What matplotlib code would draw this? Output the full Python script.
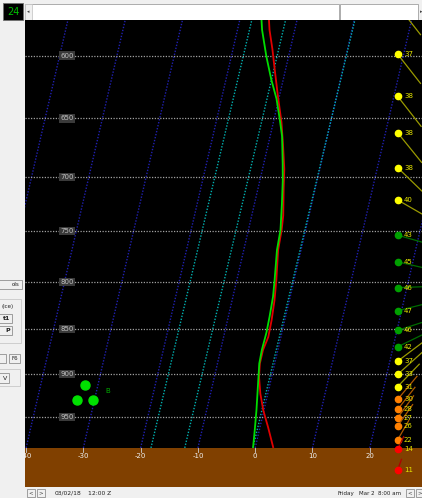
import numpy as np
import matplotlib
matplotlib.use("Agg")
import matplotlib.pyplot as plt
from matplotlib.patches import Rectangle

# sounding (hPa, deg C)
temp_pres = [573.5, 580.8, 595.4, 610.7, 631.3, 652.9, 672.2, 693.1, 711.1, 735.5, 749.0, 768.4,
             798.3, 819.0, 840.2, 858.1, 872.7, 887.6, 902.9, 922.3, 942.2, 962.4, 987.2]
temp = [-14.9, -14.4, -13.1, -11.9, -10.3, -8.6, -7.4, -6.2, -5.5, -4.5, -4.2, -4.0,
        -3.1, -2.6, -2.3, -2.2, -2.6, -2.6, -2.2, -1.3, -0.1, 1.4, 3.1]
dwpt_pres = [573.5, 580.8, 600.5, 618.5, 633.9, 650.7, 665.0, 688.4, 703.4, 724.7, 749.0, 768.4,
             798.3, 815.5, 836.1, 853.3, 872.7, 887.6, 902.9, 942.2, 966.0, 987.0]
dwpt = [-16.2, -15.7, -13.9, -12.1, -10.4, -9.0, -7.9, -6.7, -6.0, -5.2, -4.4, -4.2,
        -3.4, -3.0, -2.8, -2.7, -2.8, -2.7, -2.3, -1.3, -0.8, -0.4]

# wind column: pressure, speed (kt), bearing of the shaft (deg)
wind_pres = [563, 599, 632, 662, 692, 721, 754, 780, 806, 830, 851, 869, 885, 900, 914, 929,
             941, 951, 961, 978, 990, 1016]
wind_spd = [37, 37, 38, 38, 38, 40, 43, 45, 46, 47, 46, 42, 37, 33, 31, 30, 28, 27, 26, 22, 14, 11]
wind_dir = [142, 142, 142, 141, 134, 120, 106, 103, 88, 76, 72, 64, 53, 48, 44, 40, 38, 36, 35, 30, 25, 20]

# reference lines
isotherms = list(range(-70, 40, 10))
temp_ticks = [-40, -30, -20, -10, 0, 10, 20]
plevels = [600, 650, 700, 750, 800, 850, 900, 950]
mix_bot = [-18.2, -12.3, -0.4]
mix_top = [-17.9, -12.0, 0.1]

P_SFC = 988.2
P_TOP = 573.5
P_LOW = 1038.6
SKEW = 31.8


def skew_x(t, p):
    return np.asarray(t, dtype=float) + SKEW * np.log(P_SFC / np.asarray(p, dtype=float))


def wind_color(s):
    if s <= 15:
        return "#ff0000", "#b00000"
    if s <= 30:
        return "#ff8000", "#b05a00"
    if s <= 40:
        return "#ffff00", "#9a9a00"
    return "#00a000", "#006c00"


fig = plt.figure(figsize=(4.22, 4.98), dpi=100, facecolor="#f0f0f0")

# window chrome
ui = fig.add_axes([0, 0, 1, 1])
ui.set_xlim(0, 422)
ui.set_ylim(498, 0)
ui.axis("off")
ui.add_patch(Rectangle((3, 3), 20, 17, fc="black", ec="#707070", lw=0.6))
ui.text(13, 11.5, "24", color="#00c000", fontsize=7, ha="center", va="center")
ui.add_patch(Rectangle((25, 3.5), 314, 16, fc="white", ec="#a0a0a0", lw=0.6))
ui.add_patch(Rectangle((25, 3.5), 7, 16, fc="#f0f0f0", ec="#c0c0c0", lw=0.5))
ui.text(28.5, 11.5, "\u25c2", color="#404040", fontsize=3.5, ha="center", va="center")
ui.add_patch(Rectangle((340, 3.5), 78, 16, fc="white", ec="#a0a0a0", lw=0.6))
ui.text(421, 11.5, "\u25b8", color="#404040", fontsize=3.5, ha="center", va="center")

# left tool panel (partly hidden)
btn = dict(fc="#f0f0f0", ec="#909090", lw=0.6)
ui.add_patch(Rectangle((-2, 280), 24, 9, **btn))
ui.text(19, 284.5, "ols", fontsize=4, ha="right", va="center", color="#202020")
ui.add_patch(Rectangle((-2, 299), 23, 44, fill=False, ec="#c8c8c8", lw=0.6))
ui.text(1, 306.5, "(ice)", fontsize=4, ha="left", va="center", color="#202020")
ui.add_patch(Rectangle((-2, 314), 14, 9, **btn))
ui.text(10, 318.5, "t1", fontsize=4.5, ha="right", va="center", weight="bold", color="#202020")
ui.add_patch(Rectangle((-2, 326), 14, 9, **btn))
ui.text(10, 330.5, "P", fontsize=4.5, ha="right", va="center", weight="bold", color="#202020")
ui.add_patch(Rectangle((-2, 354), 8, 9, **btn))
ui.add_patch(Rectangle((9, 354), 11, 9, **btn))
ui.text(14.5, 358.5, "F6", fontsize=4, ha="center", va="center", color="#202020")
ui.add_patch(Rectangle((-2, 369), 22, 17, fill=False, ec="#c8c8c8", lw=0.6))
ui.add_patch(Rectangle((-2, 373), 11, 10, **btn))
ui.text(7, 378, "V", fontsize=4.5, ha="right", va="center", color="#202020")

# bottom status bar
ui.add_patch(Rectangle((27, 489), 8, 8, **btn))
ui.add_patch(Rectangle((37, 489), 8, 8, **btn))
ui.text(31, 493, "<", fontsize=4, ha="center", va="center", color="#404040")
ui.text(41, 493, ">", fontsize=4, ha="center", va="center", color="#404040")
ui.text(55, 493, "03/02/18", fontsize=4.3, ha="left", va="center", color="#202020")
ui.text(88, 493, "12:00 Z", fontsize=4.3, ha="left", va="center", color="#202020")
ui.text(338, 493, "Friday", fontsize=4, ha="left", va="center", color="#202020")
ui.text(359, 493, "Mar 2", fontsize=4, ha="left", va="center", color="#202020")
ui.text(378, 493, "8:00 am", fontsize=4, ha="left", va="center", color="#202020")
ui.add_patch(Rectangle((406, 489), 8, 8, **btn))
ui.add_patch(Rectangle((416, 489), 8, 8, **btn))
ui.text(410, 493, "<", fontsize=4, ha="center", va="center", color="#404040")
ui.text(420, 493, ">", fontsize=4, ha="center", va="center", color="#404040")

# skew-T panel
ax = fig.add_axes([25 / 422, 11 / 498, 397 / 422, 467 / 498])
ax.set_facecolor("black")
ax.set_yscale("log")
ax.set_ylim(P_LOW, P_TOP)
ax.set_xlim(-40.19, 29.12)
ax.set_xticks([])
ax.set_yticks([])
ax.yaxis.set_minor_locator(matplotlib.ticker.NullLocator())
for s in ax.spines.values():
    s.set_visible(False)

dots = (0, (1, 1.2))
pp = np.array([P_SFC, 540.0])
for t in isotherms:
    ax.plot(skew_x([t, t], pp), pp, color="#2020b0", lw=1.0, ls=dots)
for tb, tt in zip(mix_bot, mix_top):
    ax.plot(skew_x([tb, tt], [P_SFC, P_TOP]), [P_SFC, P_TOP], color="#00b0b0", lw=1.0, ls=dots)
for p in plevels:
    ax.axhline(p, color="#a0a0a0", lw=0.9, ls=dots)
    ax.text(-32.86, p, str(p), color="#c0c0c0", fontsize=5, ha="center", va="center",
            bbox=dict(boxstyle="square,pad=0.15", fc="#3a3a3a", ec="none"))

# ground
ax.axhspan(P_SFC, P_LOW, color="#804000", lw=0)
for t in temp_ticks:
    ax.plot([t, t], [P_SFC, 993], color="#d0d0d0", lw=0.6)
    ax.text(t, 998.4, str(t), color="#f0f0f0", fontsize=5, ha="center", va="center", clip_on=True)

# temperature and dewpoint traces
ax.plot(skew_x(temp, temp_pres), temp_pres, color="#e00000", lw=1.3)
ax.plot(skew_x(dwpt, dwpt_pres), dwpt_pres, color="#00dd00", lw=1.3)

# cloud-base symbol
ax.plot([-29.71, -31.11, -28.32], [912, 930, 930], "o", ms=6.5, color="#00e000", mec="#00e000")
ax.text(-25.75, 918.8, "B", color="#00b000", fontsize=5, ha="center", va="center")

# wind column
WX = 24.88
inv = ax.transData.inverted()
for p, s, d in zip(wind_pres, wind_spd, wind_dir):
    mc, lc = wind_color(s)
    x0, y0 = ax.transData.transform((WX, p))
    a = np.radians(d)
    x1, y1 = inv.transform((x0 + s * np.sin(a), y0 + s * np.cos(a)))
    ax.plot([WX, x1], [p, y1], color=lc, lw=0.9)
    ax.plot(WX, p, "o", ms=4.5, color=mc, mec=mc)
    ax.text(25.98, p, str(s), color="#e6e600", fontsize=5, ha="left", va="center", clip_on=True)

fig.savefig("out.png", dpi=100, facecolor=fig.get_facecolor())
